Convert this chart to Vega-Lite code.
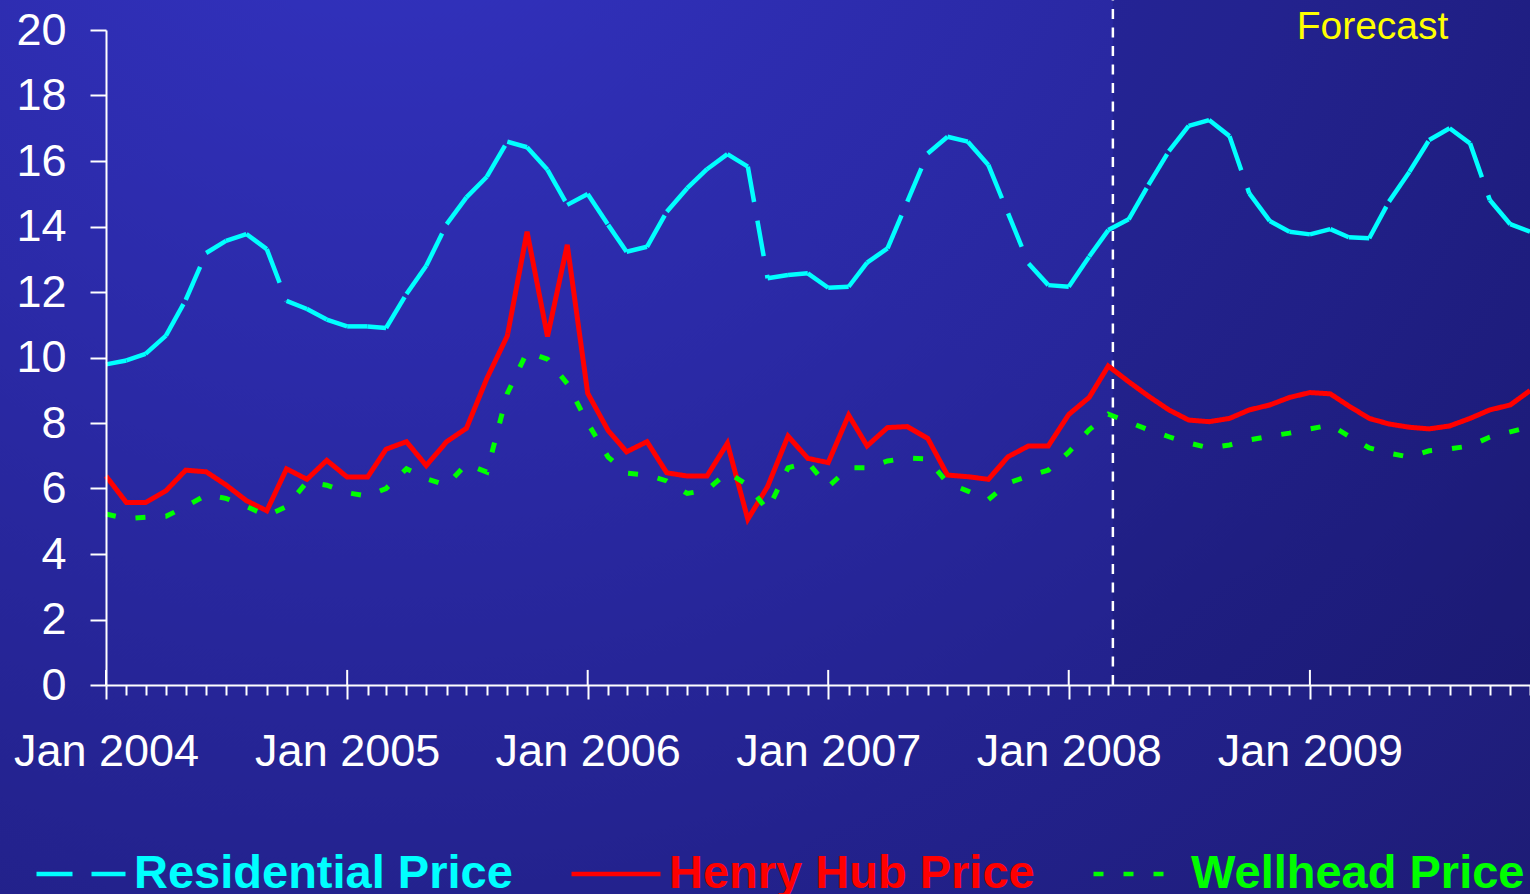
{
  "$schema": "https://vega.github.io/schema/vega-lite/v6.json",
  "width": 1424,
  "height": 655,
  "autosize": {"type": "none"},
  "padding": {"left": 106, "top": 30, "right": 0, "bottom": 209},
  "background": "#201f7a",
  "config": {
    "view": {"stroke": null},
    "font": "Liberation Sans",
    "axis": {
      "domainColor": "#ffffff",
      "domainWidth": 2,
      "tickColor": "#ffffff",
      "tickWidth": 2,
      "labelColor": "#ffffff",
      "labelFont": "Liberation Sans",
      "labelFontSize": 45,
      "labelLimit": 400,
      "grid": false
    }
  },
  "datasets": {
    "prices": [
      {"date": "2004-01-01", "Residential Price": 9.79, "Henry Hub Price": 6.38, "Wellhead Price": 5.22},
      {"date": "2004-02-01", "Residential Price": 9.91, "Henry Hub Price": 5.57, "Wellhead Price": 5.08},
      {"date": "2004-03-01", "Residential Price": 10.11, "Henry Hub Price": 5.57, "Wellhead Price": 5.12},
      {"date": "2004-04-01", "Residential Price": 10.67, "Henry Hub Price": 5.93, "Wellhead Price": 5.15},
      {"date": "2004-05-01", "Residential Price": 11.76, "Henry Hub Price": 6.56, "Wellhead Price": 5.45},
      {"date": "2004-06-01", "Residential Price": 13.19, "Henry Hub Price": 6.51, "Wellhead Price": 5.8},
      {"date": "2004-07-01", "Residential Price": 13.56, "Henry Hub Price": 6.11, "Wellhead Price": 5.7},
      {"date": "2004-08-01", "Residential Price": 13.77, "Henry Hub Price": 5.63, "Wellhead Price": 5.45},
      {"date": "2004-09-01", "Residential Price": 13.31, "Henry Hub Price": 5.32, "Wellhead Price": 5.17},
      {"date": "2004-10-01", "Residential Price": 11.73, "Henry Hub Price": 6.6, "Wellhead Price": 5.45},
      {"date": "2004-11-01", "Residential Price": 11.48, "Henry Hub Price": 6.28, "Wellhead Price": 6.2},
      {"date": "2004-12-01", "Residential Price": 11.16, "Henry Hub Price": 6.86, "Wellhead Price": 6.1},
      {"date": "2005-01-01", "Residential Price": 10.95, "Henry Hub Price": 6.35, "Wellhead Price": 5.87},
      {"date": "2005-02-01", "Residential Price": 10.95, "Henry Hub Price": 6.35, "Wellhead Price": 5.77},
      {"date": "2005-03-01", "Residential Price": 10.9, "Henry Hub Price": 7.2, "Wellhead Price": 6.0},
      {"date": "2005-04-01", "Residential Price": 11.94, "Henry Hub Price": 7.43, "Wellhead Price": 6.6},
      {"date": "2005-05-01", "Residential Price": 12.8, "Henry Hub Price": 6.7, "Wellhead Price": 6.3},
      {"date": "2005-06-01", "Residential Price": 14.07, "Henry Hub Price": 7.43, "Wellhead Price": 6.1},
      {"date": "2005-07-01", "Residential Price": 14.89, "Henry Hub Price": 7.84, "Wellhead Price": 6.75},
      {"date": "2005-08-01", "Residential Price": 15.52, "Henry Hub Price": 9.36, "Wellhead Price": 6.5},
      {"date": "2005-09-01", "Residential Price": 16.59, "Henry Hub Price": 10.66, "Wellhead Price": 8.9},
      {"date": "2005-10-01", "Residential Price": 16.42, "Henry Hub Price": 13.84, "Wellhead Price": 10.17},
      {"date": "2005-11-01", "Residential Price": 15.73, "Henry Hub Price": 10.64, "Wellhead Price": 9.95},
      {"date": "2005-12-01", "Residential Price": 14.66, "Henry Hub Price": 13.44, "Wellhead Price": 9.2},
      {"date": "2006-01-01", "Residential Price": 14.99, "Henry Hub Price": 8.91, "Wellhead Price": 8.0},
      {"date": "2006-02-01", "Residential Price": 14.05, "Henry Hub Price": 7.77, "Wellhead Price": 6.96},
      {"date": "2006-03-01", "Residential Price": 13.23, "Henry Hub Price": 7.12, "Wellhead Price": 6.47},
      {"date": "2006-04-01", "Residential Price": 13.38, "Henry Hub Price": 7.43, "Wellhead Price": 6.41},
      {"date": "2006-05-01", "Residential Price": 14.45, "Henry Hub Price": 6.48, "Wellhead Price": 6.23},
      {"date": "2006-06-01", "Residential Price": 15.17, "Henry Hub Price": 6.38, "Wellhead Price": 5.85},
      {"date": "2006-07-01", "Residential Price": 15.75, "Henry Hub Price": 6.38, "Wellhead Price": 5.95},
      {"date": "2006-08-01", "Residential Price": 16.21, "Henry Hub Price": 7.38, "Wellhead Price": 6.5},
      {"date": "2006-09-01", "Residential Price": 15.83, "Henry Hub Price": 5.06, "Wellhead Price": 6.1},
      {"date": "2006-10-01", "Residential Price": 12.42, "Henry Hub Price": 6.06, "Wellhead Price": 5.34},
      {"date": "2006-11-01", "Residential Price": 12.52, "Henry Hub Price": 7.6, "Wellhead Price": 6.63},
      {"date": "2006-12-01", "Residential Price": 12.57, "Henry Hub Price": 6.92, "Wellhead Price": 6.8},
      {"date": "2007-01-01", "Residential Price": 12.13, "Henry Hub Price": 6.79, "Wellhead Price": 6.05},
      {"date": "2007-02-01", "Residential Price": 12.16, "Henry Hub Price": 8.24, "Wellhead Price": 6.63},
      {"date": "2007-03-01", "Residential Price": 12.9, "Henry Hub Price": 7.3, "Wellhead Price": 6.63},
      {"date": "2007-04-01", "Residential Price": 13.33, "Henry Hub Price": 7.86, "Wellhead Price": 6.84},
      {"date": "2007-05-01", "Residential Price": 14.76, "Henry Hub Price": 7.89, "Wellhead Price": 6.93},
      {"date": "2007-06-01", "Residential Price": 16.23, "Henry Hub Price": 7.53, "Wellhead Price": 6.9},
      {"date": "2007-07-01", "Residential Price": 16.74, "Henry Hub Price": 6.41, "Wellhead Price": 6.17},
      {"date": "2007-08-01", "Residential Price": 16.59, "Henry Hub Price": 6.36, "Wellhead Price": 5.92},
      {"date": "2007-09-01", "Residential Price": 15.88, "Henry Hub Price": 6.28, "Wellhead Price": 5.66},
      {"date": "2007-10-01", "Residential Price": 14.4, "Henry Hub Price": 6.97, "Wellhead Price": 6.17},
      {"date": "2007-11-01", "Residential Price": 12.87, "Henry Hub Price": 7.3, "Wellhead Price": 6.38},
      {"date": "2007-12-01", "Residential Price": 12.21, "Henry Hub Price": 7.3, "Wellhead Price": 6.56},
      {"date": "2008-01-01", "Residential Price": 12.16, "Henry Hub Price": 8.26, "Wellhead Price": 7.11},
      {"date": "2008-02-01", "Residential Price": 13.08, "Henry Hub Price": 8.78, "Wellhead Price": 7.79},
      {"date": "2008-03-01", "Residential Price": 13.89, "Henry Hub Price": 9.74, "Wellhead Price": 8.27},
      {"date": "2008-04-01", "Residential Price": 14.22, "Henry Hub Price": 9.26, "Wellhead Price": 8.03},
      {"date": "2008-05-01", "Residential Price": 15.27, "Henry Hub Price": 8.82, "Wellhead Price": 7.79},
      {"date": "2008-06-01", "Residential Price": 16.3, "Henry Hub Price": 8.4, "Wellhead Price": 7.58},
      {"date": "2008-07-01", "Residential Price": 17.07, "Henry Hub Price": 8.09, "Wellhead Price": 7.39},
      {"date": "2008-08-01", "Residential Price": 17.25, "Henry Hub Price": 8.04, "Wellhead Price": 7.24},
      {"date": "2008-09-01", "Residential Price": 16.76, "Henry Hub Price": 8.14, "Wellhead Price": 7.33},
      {"date": "2008-10-01", "Residential Price": 15.01, "Henry Hub Price": 8.4, "Wellhead Price": 7.48},
      {"date": "2008-11-01", "Residential Price": 14.17, "Henry Hub Price": 8.55, "Wellhead Price": 7.6},
      {"date": "2008-12-01", "Residential Price": 13.84, "Henry Hub Price": 8.78, "Wellhead Price": 7.69},
      {"date": "2009-01-01", "Residential Price": 13.76, "Henry Hub Price": 8.93, "Wellhead Price": 7.82},
      {"date": "2009-02-01", "Residential Price": 13.92, "Henry Hub Price": 8.89, "Wellhead Price": 7.94},
      {"date": "2009-03-01", "Residential Price": 13.67, "Henry Hub Price": 8.52, "Wellhead Price": 7.6},
      {"date": "2009-04-01", "Residential Price": 13.64, "Henry Hub Price": 8.14, "Wellhead Price": 7.24},
      {"date": "2009-05-01", "Residential Price": 14.76, "Henry Hub Price": 7.97, "Wellhead Price": 7.08},
      {"date": "2009-06-01", "Residential Price": 15.67, "Henry Hub Price": 7.87, "Wellhead Price": 6.96},
      {"date": "2009-07-01", "Residential Price": 16.64, "Henry Hub Price": 7.82, "Wellhead Price": 7.15},
      {"date": "2009-08-01", "Residential Price": 17.0, "Henry Hub Price": 7.91, "Wellhead Price": 7.21},
      {"date": "2009-09-01", "Residential Price": 16.54, "Henry Hub Price": 8.14, "Wellhead Price": 7.3},
      {"date": "2009-10-01", "Residential Price": 14.81, "Henry Hub Price": 8.4, "Wellhead Price": 7.57},
      {"date": "2009-11-01", "Residential Price": 14.07, "Henry Hub Price": 8.55, "Wellhead Price": 7.73},
      {"date": "2009-12-01", "Residential Price": 13.84, "Henry Hub Price": 8.99, "Wellhead Price": 7.88}
    ]
  },
  "layer": [
    {
      "data": {"values": [{}]},
      "mark": {
        "type": "rect",
        "fill": {
          "gradient": "radial",
          "x1": 0.25, "y1": 0.02, "r1": 0,
          "x2": 0.25, "y2": 0.02, "r2": 1.25,
          "stops": [
            {"offset": 0, "color": "#3535c8"},
            {"offset": 0.35, "color": "#2b2aa8"},
            {"offset": 0.65, "color": "#22218a"},
            {"offset": 1, "color": "#1a1864"}
          ]
        }
      },
      "encoding": {
        "x": {"datum": {"year": 2003, "month": 7, "date": 1, "utc": true}, "type": "temporal",
              "scale": {"type": "utc", "domain": [{"year": 2004, "month": 1, "date": 1, "utc": true}, {"year": 2009, "month": 12, "date": 1, "utc": true}], "nice": false}},
        "x2": {"datum": {"year": 2010, "month": 2, "date": 1, "utc": true}},
        "y": {"datum": -7, "type": "quantitative", "scale": {"domain": [0, 20], "nice": false}},
        "y2": {"datum": 21.5}
      }
    },
    {
      "data": {"values": [{}]},
      "mark": {"type": "rect", "fill": "#000020", "fillOpacity": 0.1},
      "encoding": {
        "x": {"datum": {"year": 2008, "month": 3, "date": 8, "utc": true}, "type": "temporal",
              "scale": {"type": "utc", "domain": [{"year": 2004, "month": 1, "date": 1, "utc": true}, {"year": 2009, "month": 12, "date": 1, "utc": true}], "nice": false}},
        "x2": {"datum": {"year": 2010, "month": 2, "date": 1, "utc": true}},
        "y": {"datum": 0, "type": "quantitative", "scale": {"domain": [0, 20], "nice": false}},
        "y2": {"datum": 21.5}
      }
    },
    {
      "data": {"values": [{}]},
      "mark": {"type": "rule", "color": "#ffffff", "strokeWidth": 2.5, "strokeDash": [10, 8.5]},
      "encoding": {
        "x": {"datum": {"year": 2008, "month": 3, "date": 8, "utc": true}, "type": "temporal",
              "scale": {"type": "utc", "domain": [{"year": 2004, "month": 1, "date": 1, "utc": true}, {"year": 2009, "month": 12, "date": 1, "utc": true}], "nice": false}},
        "y": {"datum": 0, "type": "quantitative", "scale": {"domain": [0, 20], "nice": false}},
        "y2": {"datum": 21.2}
      }
    },
    {
      "data": {"name": "prices", "format": {"parse": {"date": "date"}}},
      "transform": [{"filter": "utcmonth(datum.date) == 0"}],
      "mark": {"type": "rule", "color": "#ffffff", "strokeWidth": 2},
      "encoding": {
        "x": {"field": "date", "type": "temporal",
              "scale": {"type": "utc", "domain": [{"year": 2004, "month": 1, "date": 1, "utc": true}, {"year": 2009, "month": 12, "date": 1, "utc": true}], "nice": false}},
        "y": {"datum": 0, "type": "quantitative", "scale": {"domain": [0, 20], "nice": false}},
        "y2": {"datum": 0.46}
      }
    },
    {
      "data": {"name": "prices", "format": {"parse": {"date": "date"}}},
      "transform": [{"fold": ["Henry Hub Price", "Wellhead Price"], "as": ["series", "value"]}],
      "mark": {"type": "line", "strokeWidth": 5, "strokeCap": "butt", "strokeJoin": "miter"},
      "encoding": {
        "x": {"field": "date", "type": "temporal",
              "scale": {"type": "utc", "domain": [{"year": 2004, "month": 1, "date": 1, "utc": true}, {"year": 2009, "month": 12, "date": 1, "utc": true}], "nice": false},
              "axis": {
                "title": null,
                "zindex": 1,
                "tickCount": {"interval": "month", "step": 1},
                "labelExpr": "utcmonth(datum.value) == 0 ? utcFormat(datum.value, '%b %Y') : ''",
                "labelOverlap": false,
                "labelFlush": false,
                "labelBound": false,
                "labelLimit": 400,
                "labelPadding": 30,
                "tickSize": {"condition": {"test": "utcmonth(datum.value) == 0", "value": 14}, "value": 10}
              }},
        "y": {"field": "value", "type": "quantitative",
              "scale": {"domain": [0, 20], "nice": false},
              "axis": {"title": null, "zindex": 1, "values": [0, 2, 4, 6, 8, 10, 12, 14, 16, 18, 20], "tickSize": 16, "labelPadding": 24}},
        "color": {"field": "series", "type": "nominal",
                  "scale": {"domain": ["Residential Price", "Henry Hub Price", "Wellhead Price"], "range": ["#00ffff", "#ff0000", "#00ff00"]},
                  "legend": {
                    "title": null, "orient": "none", "legendX": -72, "legendY": 797,
                    "direction": "horizontal", "symbolType": "stroke", "symbolSize": 7921, "symbolStrokeWidth": 4.5,
                    "labelFont": "Liberation Sans", "labelFontSize": 47, "labelFontWeight": "bold",
                    "labelOffset": 6, "columnPadding": 49, "padding": 0, "labelLimit": 1000,
                    "labelColor": {"expr": "datum.value === 'Residential Price' ? '#00ffff' : datum.value === 'Henry Hub Price' ? '#ff0000' : '#00ff00'"}
                  }},
        "strokeDash": {"field": "series", "type": "nominal",
                       "scale": {"domain": ["Residential Price", "Henry Hub Price", "Wellhead Price"], "range": [[36, 19], [1, 0], [10, 20]]},
                       "legend": {
                    "title": null, "orient": "none", "legendX": -72, "legendY": 797,
                    "direction": "horizontal", "symbolType": "stroke", "symbolSize": 7921, "symbolStrokeWidth": 4.5,
                    "labelFont": "Liberation Sans", "labelFontSize": 47, "labelFontWeight": "bold",
                    "labelOffset": 6, "columnPadding": 49, "padding": 0, "labelLimit": 1000,
                    "labelColor": {"expr": "datum.value === 'Residential Price' ? '#00ffff' : datum.value === 'Henry Hub Price' ? '#ff0000' : '#00ff00'"}
                  }}
      }
    },
    {
      "data": {"name": "prices", "format": {"parse": {"date": "date"}}},
      "transform": [
        {"fold": ["Residential Price"], "as": ["series", "value"]},
        {"window": [{"op": "lead", "field": "value", "as": "next_value"}, {"op": "lead", "field": "date", "as": "next_date"}],
         "sort": [{"field": "date", "order": "ascending"}]},
        {"filter": "datum.next_date != null"}
      ],
      "mark": {"type": "rule", "strokeWidth": 4.5, "strokeCap": "butt"},
      "encoding": {
        "x": {"field": "date", "type": "temporal",
              "scale": {"type": "utc", "domain": [{"year": 2004, "month": 1, "date": 1, "utc": true}, {"year": 2009, "month": 12, "date": 1, "utc": true}], "nice": false}},
        "x2": {"field": "next_date"},
        "y": {"field": "value", "type": "quantitative", "scale": {"domain": [0, 20], "nice": false}},
        "y2": {"field": "next_value"},
        "color": {"field": "series", "type": "nominal",
                  "scale": {"domain": ["Residential Price", "Henry Hub Price", "Wellhead Price"], "range": ["#00ffff", "#ff0000", "#00ff00"]}},
        "strokeDash": {"field": "series", "type": "nominal",
                       "scale": {"domain": ["Residential Price", "Henry Hub Price", "Wellhead Price"], "range": [[36, 19], [1, 0], [10, 20]]}}
      }
    },
    {
      "data": {"values": [{}]},
      "mark": {"type": "text", "text": "Forecast", "font": "Liberation Sans", "fontSize": 39, "color": "#ffff00", "align": "center", "baseline": "alphabetic"},
      "encoding": {
        "x": {"datum": {"year": 2009, "month": 4, "date": 6, "utc": true}, "type": "temporal",
              "scale": {"type": "utc", "domain": [{"year": 2004, "month": 1, "date": 1, "utc": true}, {"year": 2009, "month": 12, "date": 1, "utc": true}], "nice": false}},
        "y": {"datum": 19.72, "type": "quantitative", "scale": {"domain": [0, 20], "nice": false}}
      }
    }
  ]
}
